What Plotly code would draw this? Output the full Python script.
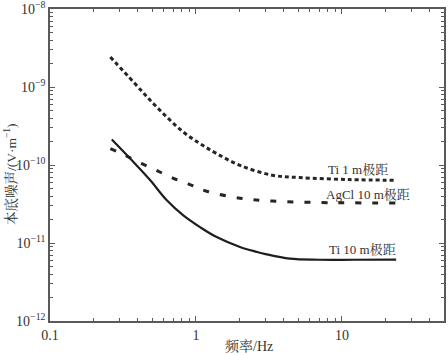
import plotly.graph_objects as go

# ---- data ----
ti1_f = [0.259, 0.373, 0.486, 0.631, 0.819, 1.065, 1.385, 2.0, 3.33, 5.13, 11.2, 23.5]
ti1_v = [2.42e-9, 1.16e-9, 6.75e-10, 4.12e-10, 2.65e-10, 1.88e-10, 1.40e-10, 9.9e-11,
         7.4e-11, 6.9e-11, 6.5e-11, 6.37e-11]

agcl_f = [0.259, 0.327, 0.426, 0.545, 0.694, 0.90, 1.17, 2.0, 3.33, 7.0, 12.0, 23.5]
agcl_v = [1.62e-10, 1.33e-10, 1.04e-10, 8.4e-11, 6.8e-11, 5.66e-11, 4.64e-11, 3.75e-11,
          3.45e-11, 3.3e-11, 3.27e-11, 3.25e-11]

ti10_f = [0.265, 0.373, 0.486, 0.631, 0.819, 1.065, 1.385, 2.0, 2.6, 3.0, 4.38, 7.0, 12.0, 23.5]
ti10_v = [2.12e-10, 1.09e-10, 6.37e-11, 3.53e-11, 2.26e-11, 1.60e-11, 1.19e-11, 8.9e-12,
          7.7e-12, 7.2e-12, 6.3e-12, 6.1e-12, 6.1e-12, 6.12e-12]

series_names = ["Ti 1 m极距", "AgCl 10 m极距", "Ti 10 m极距"]

x_major = [0.1, 1, 10]
x_major_text = ["0.1", "1", "10"]
y_major = [1e-12, 1e-11, 1e-10, 1e-9, 1e-8]
y_major_text = ["10<sup>−12</sup>", "10<sup>−11</sup>", "10<sup>−10</sup>",
                "10<sup>−9</sup>", "10<sup>−8</sup>"]

x_title = "频率/Hz"
y_title = "本底噪声/(V·m<sup>−1</sup>)"

# minor tick positions (2..9 per decade)
x_minor = [m * d for d in (0.1, 1, 10) for m in range(2, 10) if m * d <= 50]
y_minor = [m * d for d in (1e-12, 1e-11, 1e-10, 1e-9) for m in range(2, 10)]

FONT = "Liberation Serif, Times New Roman, Noto Serif CJK SC, Noto Sans CJK SC, serif"
AX = "#5a5a5a"
TXT = "#333333"

fig = go.Figure()
fig.add_trace(go.Scatter(x=ti1_f, y=ti1_v, mode="lines", name=series_names[0],
                         line=dict(color="#262626", width=3, dash="4px,3px", shape="spline")))
fig.add_trace(go.Scatter(x=agcl_f, y=agcl_v, mode="lines", name=series_names[1],
                         line=dict(color="#262626", width=3, dash="6px,11px", shape="spline")))
fig.add_trace(go.Scatter(x=ti10_f, y=ti10_v, mode="lines", name=series_names[2],
                         line=dict(color="#1e1e1e", width=2.2, shape="spline")))

axis_common = dict(
    type="log", showgrid=False, zeroline=False, showline=True, linecolor=AX, linewidth=1.5,
    mirror="allticks", ticks="inside", ticklen=5, tickwidth=1, tickcolor=AX,
    tickfont=dict(family=FONT, size=14, color=TXT), tickmode="array",
    automargin=False, ticklabeloverflow="allow",
)

fig.update_xaxes(**axis_common, range=[-1.0001, 1.69897], tickvals=x_major, ticktext=x_major_text,
                 minor=dict(tickmode="array", tickvals=x_minor, ticks="inside", ticklen=3,
                            tickcolor=AX, showgrid=False))
fig.update_yaxes(**axis_common, range=[-12.0001, -7.9999], tickvals=y_major, ticktext=y_major_text,
                 minor=dict(tickmode="array", tickvals=y_minor, ticks="inside", ticklen=3,
                            tickcolor=AX, showgrid=False))

label_pos = [(0.782, 0.485), (0.807, 0.407), (0.792, 0.230)]
annotations = []
for name, (px, py) in zip(series_names, label_pos):
    annotations.append(dict(text=name, x=px, y=py, xref="paper", yref="paper",
                            xanchor="center", yanchor="middle",
                            showarrow=False, font=dict(family=FONT, size=13, color=TXT)))
annotations.append(dict(text=x_title, x=0.506, y=-0.083, xref="paper", yref="paper",
                        xanchor="center", yanchor="middle",
                        showarrow=False, font=dict(family=FONT, size=14, color=TXT)))
annotations.append(dict(text=y_title, x=-0.1, y=0.47, xref="paper", yref="paper",
                        xanchor="center", yanchor="middle",
                        textangle=-90, showarrow=False,
                        font=dict(family=FONT, size=13.5, color=TXT)))

fig.update_layout(
    width=448, height=355, margin=dict(l=50, r=4, t=9, b=34, autoexpand=False),
    paper_bgcolor="white", plot_bgcolor="white", showlegend=False,
    annotations=annotations,
)

fig.write_html(
    "out.html",
    config={"displayModeBar": False},
    post_script="document.body.style.margin='0';document.body.style.overflow='hidden';",
)
